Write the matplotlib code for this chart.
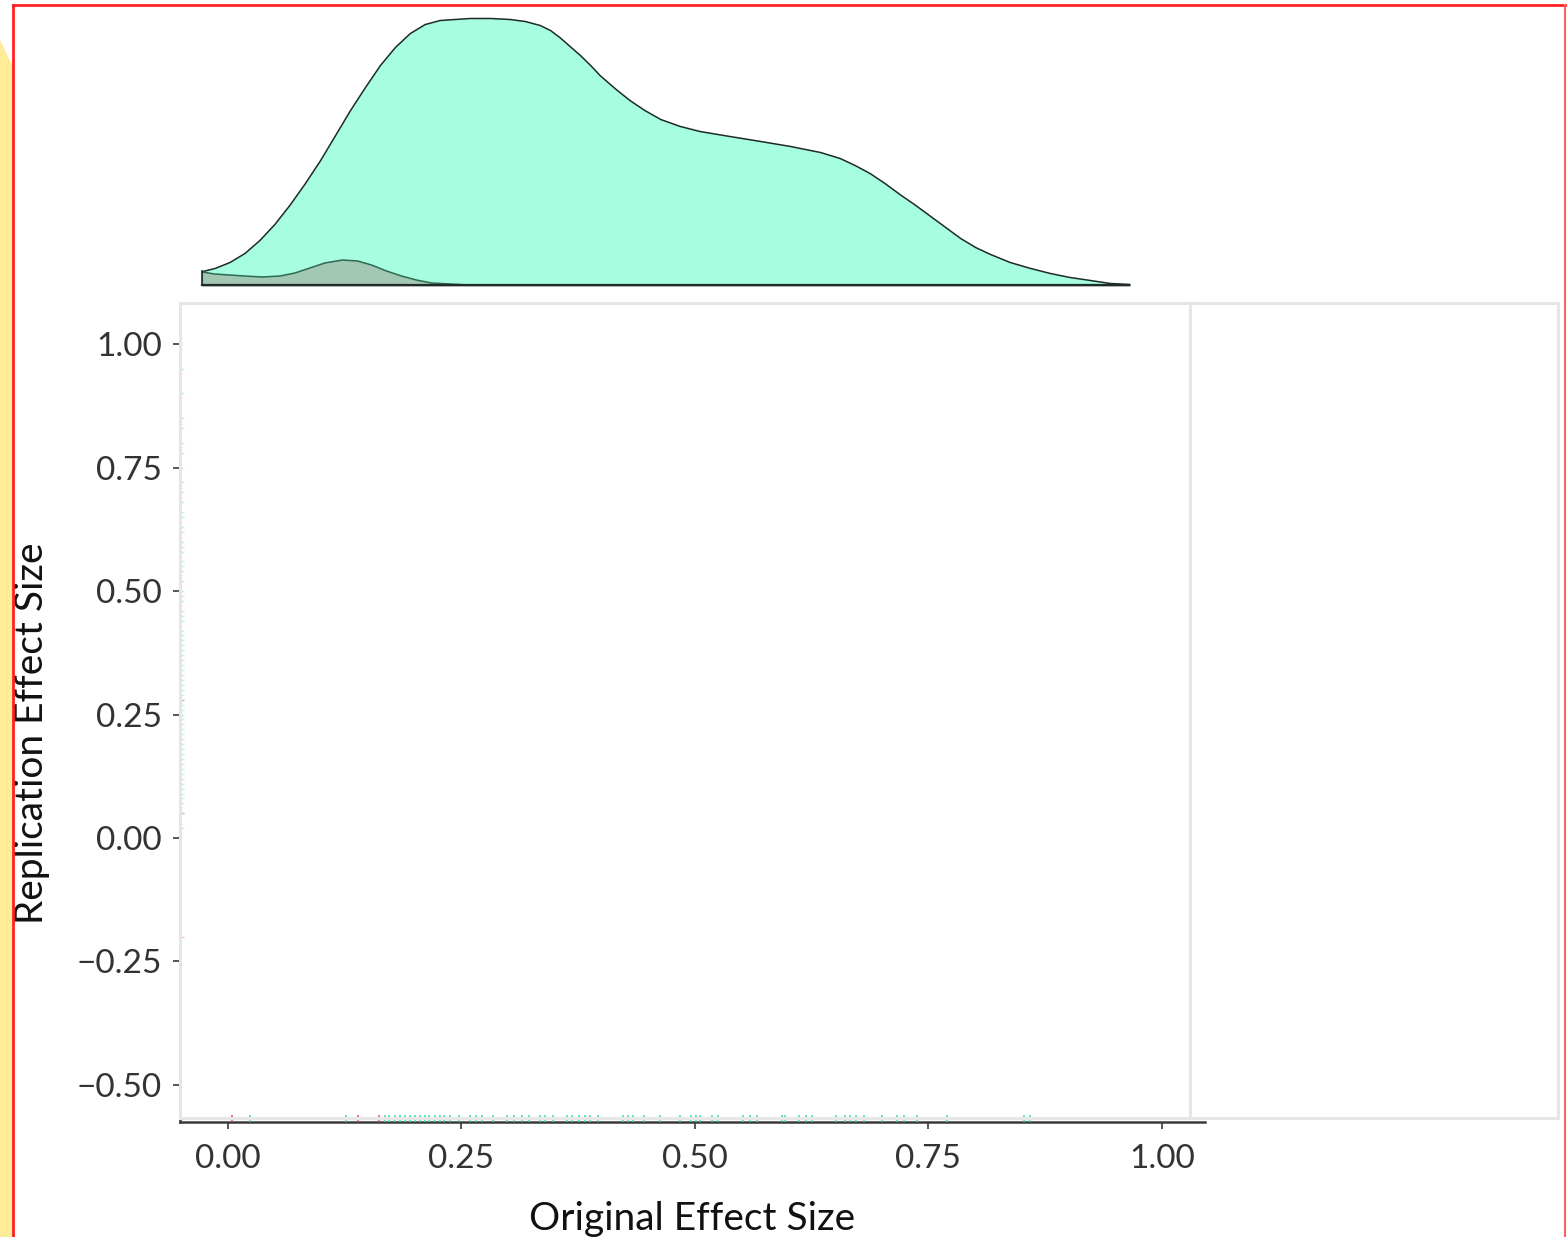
import matplotlib
matplotlib.use("Agg")
import matplotlib.pyplot as plt
from matplotlib.patches import Rectangle, Polygon
from matplotlib.lines import Line2D

plt.rcParams['font.family'] = ['Lato', 'DejaVu Sans']

# ---------------- data ----------------
# Marginal density of original effect size
dens_x = [-0.027, -0.014, 0.002, 0.018, 0.034, 0.050, 0.066, 0.082, 0.099, 0.115,
          0.131, 0.147, 0.163, 0.179, 0.195, 0.211, 0.227, 0.243, 0.259, 0.281,
          0.302, 0.318, 0.334, 0.345, 0.355, 0.366, 0.377, 0.388, 0.398, 0.414,
          0.430, 0.446, 0.463, 0.484, 0.505, 0.537, 0.570, 0.602, 0.634, 0.655,
          0.671, 0.687, 0.703, 0.719, 0.736, 0.752, 0.768, 0.784, 0.800, 0.816,
          0.837, 0.859, 0.880, 0.901, 0.923, 0.944, 0.965]
dens_big = [0.14, 0.17, 0.23, 0.32, 0.45, 0.61, 0.80, 1.01, 1.25, 1.50,
            1.75, 1.98, 2.20, 2.38, 2.52, 2.61, 2.65, 2.66, 2.67, 2.67,
            2.66, 2.64, 2.60, 2.55, 2.48, 2.39, 2.30, 2.20, 2.10, 1.97,
            1.85, 1.75, 1.66, 1.59, 1.54, 1.49, 1.44, 1.39, 1.33, 1.27,
            1.20, 1.12, 1.02, 0.91, 0.80, 0.69, 0.58, 0.47, 0.38, 0.31,
            0.23, 0.17, 0.12, 0.08, 0.05, 0.02, 0.01]
dens_small_x = [-0.027, -0.014, 0.002, 0.018, 0.037, 0.056, 0.072, 0.088, 0.104, 0.123,
                0.139, 0.154, 0.170, 0.186, 0.202, 0.218, 0.238, 0.259]
dens_small = [0.13, 0.11, 0.10, 0.09, 0.08, 0.09, 0.12, 0.17, 0.22, 0.25,
              0.24, 0.20, 0.14, 0.09, 0.05, 0.02, 0.01, 0.0]

# Rug values (original effect size on x, replication effect size on y)
x_sig = [0.024, 0.127, 0.168, 0.173, 0.179, 0.184, 0.190, 0.195, 0.200, 0.206,
         0.211, 0.216, 0.222, 0.227, 0.232, 0.238, 0.248, 0.259, 0.266, 0.272,
         0.284, 0.299, 0.306, 0.315, 0.323, 0.334, 0.340, 0.348, 0.363, 0.369,
         0.376, 0.382, 0.388, 0.396, 0.423, 0.428, 0.434, 0.446, 0.463, 0.484,
         0.496, 0.501, 0.505, 0.518, 0.525, 0.552, 0.559, 0.566, 0.593, 0.596,
         0.611, 0.619, 0.625, 0.651, 0.661, 0.666, 0.672, 0.681, 0.700, 0.716,
         0.724, 0.738, 0.770, 0.852, 0.859]
y_sig = [0.10, 0.05, 0.12, 0.30, 0.08, 0.22, 0.15, 0.35, 0.02, 0.18,
         0.25, 0.11, 0.40, 0.07, 0.28, 0.19, 0.33, 0.14, 0.45, 0.21,
         0.09, 0.38, 0.26, 0.50, 0.17, 0.31, 0.42, 0.13, 0.55, 0.24,
         0.36, 0.48, 0.20, 0.60, 0.29, 0.44, 0.16, 0.52, 0.39, 0.65,
         0.27, 0.58, 0.34, 0.70, 0.46, 0.62, 0.23, 0.75, 0.41, 0.56,
         0.68, 0.32, 0.80, 0.49, 0.72, 0.37, 0.85, 0.59, 0.66, 0.90,
         0.54, 0.78, 0.95, 0.63, 0.83]
x_ns = [0.005, 0.139, 0.162]
y_ns = [-0.20, 0.05, 0.28]

xticks = [0.00, 0.25, 0.50, 0.75, 1.00]
xticklabels = ['0.00', '0.25', '0.50', '0.75', '1.00']
yticks = [1.00, 0.75, 0.50, 0.25, 0.00, -0.25, -0.50]
yticklabels = ['1.00', '0.75', '0.50', '0.25', '0.00', '\u22120.25', '\u22120.50']

# ---------------- figure ----------------
W, H = 1567, 1237
fig = plt.figure(figsize=(W / 100, H / 100), dpi=100)

def fx(px):
    return px / W

def fy(py):
    return 1 - py / H

# decorative yellow strip and red border
fig.add_artist(Polygon([[fx(0), fy(40)], [fx(12), fy(65)], [fx(12), fy(H)], [fx(0), fy(H)]],
                       closed=True, transform=fig.transFigure, facecolor='#FFEC99',
                       edgecolor='none', zorder=0))
fig.add_artist(Line2D([fx(13), fx(13)], [fy(5), fy(H)], transform=fig.transFigure,
                      color='#FF2020', lw=2, zorder=5))
fig.add_artist(Line2D([fx(13), fx(1565)], [fy(5), fy(5)], transform=fig.transFigure,
                      color='#FF2020', lw=2, zorder=5))
fig.add_artist(Line2D([fx(1565), fx(1565)], [fy(5), fy(H)], transform=fig.transFigure,
                      color='#FF6060', lw=1.5, zorder=5))

xlim = (-0.051, 1.046)
ylim = (-0.575, 1.073)

# main axes
ax = fig.add_axes([fx(180), fy(1122), fx(1205) - fx(180), fy(308) - fy(1122)])
ax.set_facecolor('none')
ax.set_xlim(*xlim)
ax.set_ylim(*ylim)
for s in ['top', 'right']:
    ax.spines[s].set_visible(False)
for s in ['left', 'bottom']:
    ax.spines[s].set_color('#3a3a3a')
    ax.spines[s].set_linewidth(1.8)
ax.set_xticks(xticks)
ax.set_xticklabels(xticklabels)
ax.set_yticks(yticks)
ax.set_yticklabels(yticklabels)
ax.tick_params(axis='both', length=5, width=1.2, color='#3a3a3a',
               labelsize=24, labelcolor='#333333')
ax.tick_params(axis='x', pad=11)
ax.tick_params(axis='y', pad=8)
ax.set_xlabel('Original Effect Size', fontsize=28, color='#111111', labelpad=19)
ax.set_ylabel('Replication Effect Size', fontsize=28, color='#111111')
ax.yaxis.set_label_coords(-0.127, 0.477)

# rugs
ax.vlines(x_sig, 0, 0.008, transform=ax.get_xaxis_transform(), colors='#3FDCA8',
          lw=1.4, alpha=0.8, zorder=3)
ax.vlines(x_ns, 0, 0.008, transform=ax.get_xaxis_transform(), colors='#E8506F',
          lw=1.4, alpha=0.8, zorder=3)
ax.hlines(y_sig, 0, 0.004, transform=ax.get_yaxis_transform(), colors='#3FDCA8',
          lw=1.0, alpha=0.35, zorder=3)
ax.hlines(y_ns, 0, 0.004, transform=ax.get_yaxis_transform(), colors='#E8506F',
          lw=1.0, alpha=0.35, zorder=3)

# light gray panel frame
fig.add_artist(Rectangle((fx(180), fy(1118)), fx(1558) - fx(180), fy(303) - fy(1118),
                         transform=fig.transFigure, facecolor='none',
                         edgecolor='#E6E6E6', lw=2.2, zorder=1))
fig.add_artist(Line2D([fx(1190), fx(1190)], [fy(1118), fy(303)], transform=fig.transFigure,
                      color='#E6E6E6', lw=2.2, zorder=1))

# top marginal density
axt = fig.add_axes([fx(180), fy(285), fx(1205) - fx(180), fy(8) - fy(285)])
axt.set_xlim(*xlim)
axt.set_ylim(0, 2.77)
axt.axis('off')
axt.fill_between(dens_x, 0, dens_big, facecolor='#A6FDDF', edgecolor='#1E2B27',
                 lw=1.1, zorder=2, clip_on=False)
axt.fill_between(dens_small_x, 0, dens_small, facecolor='#A2C4B0', edgecolor='none',
                 alpha=0.95, zorder=3, clip_on=False)
axt.plot(dens_small_x, dens_small, color='#2F6A52', lw=1.1, zorder=4, clip_on=False)
axt.plot([dens_x[0], dens_x[-1]], [0, 0], color='#1E2B27', lw=1.6, zorder=5,
         clip_on=False)
axt.plot([dens_x[0], dens_x[0]], [0, dens_big[0]], color='#1E2B27', lw=1.2, zorder=5,
         clip_on=False)

fig.savefig('out.png', dpi=100, facecolor='white')
